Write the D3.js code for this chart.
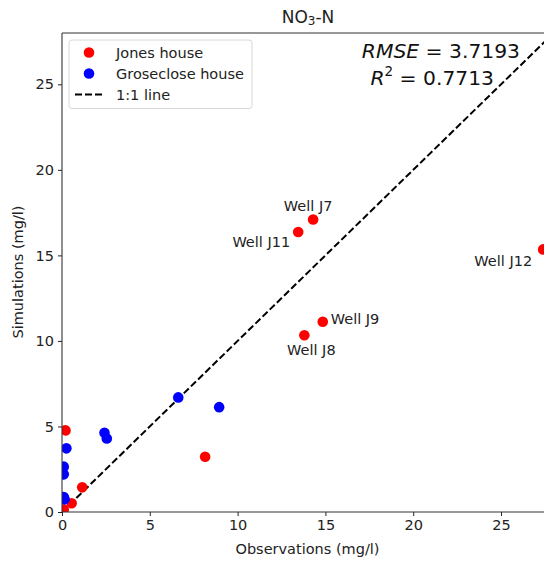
<!DOCTYPE html>
<html>
<head>
<meta charset="utf-8">
<script src="https://cdn.jsdelivr.net/npm/d3@7"></script>
<style>
  html, body { margin: 0; padding: 0; background: #fff; }
  svg { display: block; font-family: "DejaVu Sans", sans-serif; }
</style>
</head>
<body>
<svg id="chart" width="544" height="561"></svg>
<script>
// Jones house wells: observed vs simulated NO3-N (mg/l)
const jonesObs = [14.3, 13.45, 27.4, 14.85, 13.8, 0.2, 8.15, 1.15, 0.55, 0.1];
const jonesSim = [17.1, 16.37, 15.35, 11.12, 10.33, 4.77, 3.23, 1.44, 0.51, 0.15];
const jonesNames = ["Well J7", "Well J11", "Well J12", "Well J9", "Well J8", "", "", "", "", ""];

// Groseclose house wells
const groseObs = [6.62, 8.95, 2.42, 2.55, 0.25, 0.1, 0.1, 0.1, 0.15];
const groseSim = [6.7, 6.13, 4.63, 4.3, 3.72, 2.65, 2.2, 0.88, 0.74];

const xTicks = [0, 5, 10, 15, 20, 25];
const yTicks = [0, 5, 10, 15, 20, 25];
const axisMax = 28;

const rmseText = "3.7193";
const r2Text = "0.7713";

(function drawChart() {
  const svg = d3.select("#chart");
  const mLeft = 62, mTop = 33, mBottom = 512, mRight = 553.7;
  const fs = "14.5px";

  const x = d3.scaleLinear().domain([0, axisMax]).range([mLeft, mRight]);
  const y = d3.scaleLinear().domain([0, axisMax]).range([mBottom, mTop]);

  svg.append("defs").append("clipPath").attr("id", "plotArea")
    .append("rect").attr("x", mLeft).attr("y", mTop)
    .attr("width", mRight - mLeft).attr("height", mBottom - mTop);

  const plot = svg.append("g").attr("clip-path", "url(#plotArea)");

  // 1:1 reference line
  plot.append("line")
    .attr("x1", x(0)).attr("y1", y(0))
    .attr("x2", x(axisMax)).attr("y2", y(axisMax))
    .attr("stroke", "#000").attr("stroke-width", 2)
    .attr("stroke-dasharray", "7,3");

  const r = 5.3;
  plot.selectAll("circle.jones").data(jonesObs).join("circle")
    .attr("class", "jones")
    .attr("cx", (d) => x(d)).attr("cy", (d, i) => y(jonesSim[i]))
    .attr("r", r).attr("fill", "#ff0000");

  plot.selectAll("circle.grose").data(groseObs).join("circle")
    .attr("class", "grose")
    .attr("cx", (d) => x(d)).attr("cy", (d, i) => y(groseSim[i]))
    .attr("r", r).attr("fill", "#0000ff");

  // Axes
  const xAxis = d3.axisBottom(x).tickValues(xTicks).tickSize(4).tickPadding(4);
  const yAxis = d3.axisLeft(y).tickValues(yTicks).tickSize(4).tickPadding(4);

  const gx = svg.append("g").attr("transform", `translate(0,${mBottom})`).call(xAxis);
  const gy = svg.append("g").attr("transform", `translate(${mLeft},0)`).call(yAxis);
  [gx, gy].forEach((g) => {
    g.select(".domain").remove();
    g.selectAll(".tick line").attr("stroke", "#222").attr("stroke-width", 1);
    g.selectAll(".tick text").attr("fill", "#222")
      .style("font-family", "DejaVu Sans").style("font-size", fs);
  });

  // Spines
  const spine = svg.append("g").attr("stroke", "#333").attr("stroke-width", 1.1).attr("fill", "none");
  spine.append("line").attr("x1", mLeft).attr("x2", mLeft).attr("y1", mTop).attr("y2", mBottom);
  spine.append("line").attr("x1", mLeft).attr("x2", mRight).attr("y1", mBottom).attr("y2", mBottom);
  spine.append("line").attr("x1", mLeft).attr("x2", mRight).attr("y1", mTop).attr("y2", mTop);
  spine.append("line").attr("x1", mRight).attr("x2", mRight).attr("y1", mTop).attr("y2", mBottom);

  // Well labels
  const labelPos = {
    "Well J7": { dx: -5, dy: -13, anchor: "middle" },
    "Well J11": { dx: -8, dy: 10, anchor: "end" },
    "Well J12": { dx: -11, dy: 12, anchor: "end" },
    "Well J9": { dx: 8, dy: -3, anchor: "start" },
    "Well J8": { dx: 7, dy: 15, anchor: "middle" }
  };
  jonesNames.forEach((name, i) => {
    if (!name) return;
    const p = labelPos[name];
    svg.append("text")
      .attr("x", x(jonesObs[i]) + p.dx).attr("y", y(jonesSim[i]) + p.dy)
      .attr("text-anchor", p.anchor).attr("dominant-baseline", "central")
      .attr("fill", "#222").style("font-size", fs)
      .text(name);
  });

  // Title
  const title = svg.append("text").attr("x", 308).attr("y", 17)
    .attr("text-anchor", "middle").attr("dominant-baseline", "central")
    .attr("fill", "#222").style("font-size", "17px");
  title.append("tspan").text("NO");
  title.append("tspan").attr("dy", 4).style("font-size", "12px").text("3");
  title.append("tspan").attr("dy", -4).text("-N");

  // Axis labels
  svg.append("text").attr("x", 307.5).attr("y", 549)
    .attr("text-anchor", "middle").attr("dominant-baseline", "central")
    .attr("fill", "#222").style("font-size", fs).text("Observations (mg/l)");
  svg.append("text").attr("transform", "translate(18,272) rotate(-90)")
    .attr("text-anchor", "middle").attr("dominant-baseline", "central")
    .attr("fill", "#222").style("font-size", fs).text("Simulations (mg/l)");

  // Statistics
  const stat1 = svg.append("text").attr("x", 520).attr("y", 51)
    .attr("text-anchor", "end").attr("dominant-baseline", "central")
    .attr("fill", "#111").style("font-size", "20.3px");
  stat1.append("tspan").style("font-style", "italic").text("RMSE");
  stat1.append("tspan").text(" = " + rmseText);

  const stat2 = svg.append("text").attr("x", 494).attr("y", 77.5)
    .attr("text-anchor", "end").attr("dominant-baseline", "central")
    .attr("fill", "#111").style("font-size", "20.3px");
  stat2.append("tspan").style("font-style", "italic").text("R");
  stat2.append("tspan").attr("dy", -6.5).style("font-size", "13.5px").text("2");
  stat2.append("tspan").attr("dy", 6.5).text(" = " + r2Text);

  // Legend
  const legend = svg.append("g");
  legend.append("rect").attr("x", 69).attr("y", 40).attr("width", 183).attr("height", 68.5)
    .attr("rx", 3).attr("fill", "#fff").attr("fill-opacity", 0.8)
    .attr("stroke", "#d8d8d8").attr("stroke-width", 1);
  const items = [
    { label: "Jones house", color: "#ff0000", type: "dot" },
    { label: "Groseclose house", color: "#0000ff", type: "dot" },
    { label: "1:1 line", color: "#000", type: "line" }
  ];
  items.forEach((it, i) => {
    const cy = 52.5 + i * 21;
    if (it.type === "dot") {
      legend.append("circle").attr("cx", 89).attr("cy", cy).attr("r", r).attr("fill", it.color);
    } else {
      legend.append("line").attr("x1", 75).attr("x2", 105).attr("y1", cy).attr("y2", cy)
        .attr("stroke", it.color).attr("stroke-width", 2).attr("stroke-dasharray", "7,3");
    }
    legend.append("text").attr("x", 116).attr("y", cy)
      .attr("dominant-baseline", "central").attr("fill", "#222")
      .style("font-size", fs).text(it.label);
  });
})();
</script>
</body>
</html>
